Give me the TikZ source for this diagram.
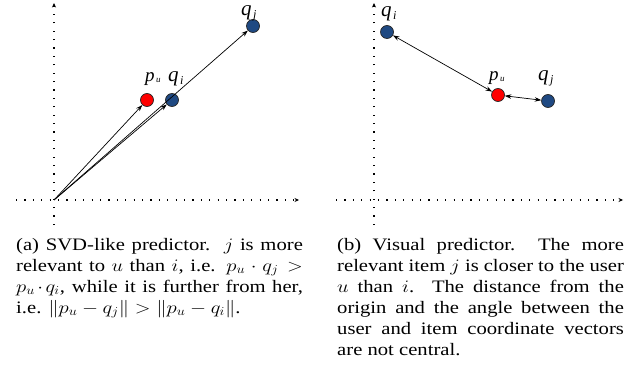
\documentclass[tikz,border=0pt]{standalone}
\usepackage{fix-cm}
\usepackage{graphicx}
\usepackage{fontspec}
\setmainfont{Liberation Serif}
\usetikzlibrary{arrows.meta}
\definecolor{itemblue}{RGB}{31,73,130}
\definecolor{userred}{RGB}{255,0,0}
\begin{document}
\begin{tikzpicture}[x=1pt,y=-1pt,
  pt/.style={circle,draw=black!85,line width=0.7pt,minimum size=13pt,inner sep=0pt},
  user/.style={pt,fill=userred},
  item/.style={pt,fill=itemblue},
  axis/.style={line width=1.2pt,dash pattern=on 1.2pt off 7.2pt,-{Stealth[length=4.5pt,width=4pt]}},
  vec/.style={line width=0.7pt,-{Stealth[length=6.5pt,width=4.5pt]}},
  dvec/.style={line width=0.7pt,{Stealth[length=6.5pt,width=4.5pt]}-{Stealth[length=6.5pt,width=4.5pt]}},
  lab/.style={anchor=base west,inner sep=0pt,font=\itshape},
  captext/.style={anchor=base west,inner sep=0pt,font=\fontsize{17.5}{21}\selectfont}
]
\useasboundingbox (0,0) rectangle (636,390);
\newcommand{\qlbl}[1]{{\fontsize{21}{21}\selectfont q}\kern1.5pt\raisebox{-3pt}{\fontsize{12}{12}\selectfont #1}}
\newcommand{\plbl}[1]{{\fontsize{19}{19}\selectfont p}\kern1.5pt\raisebox{-1pt}{\fontsize{9}{9}\selectfont #1}}
\newcommand{\capline}[1]{\scalebox{1.18}[1]{\makebox[243pt][s]{#1}}}
\newcommand{\capend}[1]{\scalebox{1.18}[1]{#1}}
% ---------- left panel ----------
\coordinate (o1) at (54,200);
\coordinate (ya1) at (54,225);
\coordinate (yb1) at (54,3);
\coordinate (xa1) at (16,200);
\coordinate (xb1) at (299,200);
\draw[axis] (ya1) -- (yb1);
\draw[axis] (xa1) -- (xb1);
\node[user] (pu1) at (147,100) {};
\node[item] (qi1) at (172,100) {};
\node[item] (qj1) at (253,26) {};
\draw[vec] (o1) -- (pu1);
\draw[vec] (o1) -- (qi1);
\draw[vec] (o1) -- (qj1);
\node[lab] (lpu1) at (145,82) {\plbl{u}};
\node[lab] (lqi1) at (168,82) {\qlbl{i}};
\node[lab] (lqj1) at (241,15.5) {\qlbl{j}};
% ---------- right panel ----------
\coordinate (ya2) at (374,225);
\coordinate (yb2) at (374,3);
\coordinate (xa2) at (336,200);
\coordinate (xb2) at (623,200);
\draw[axis] (ya2) -- (yb2);
\draw[axis] (xa2) -- (xb2);
\node[item] (qi2) at (387,32) {};
\node[user] (pu2) at (498,95) {};
\node[item] (qj2) at (548,101) {};
\draw[dvec] (qi2) -- (pu2);
\draw[dvec] (pu2) -- (qj2);
\node[lab] (lqi2) at (381,16.5) {\qlbl{i}};
\node[lab] (lpu2) at (489,81) {\plbl{u}};
\node[lab] (lqj2) at (538,81) {\qlbl{j}};
% ---------- captions ----------
\node[captext] (ca1) at (16,250) {\capline{(a) SVD-like predictor.\ \ $j$ is more}};
\node[captext] (ca2) at (16,271) {\capline{relevant to $u$ than $i$, i.e. $p_u\cdot q_j >$}};
\node[captext] (ca3) at (16,292) {\capline{$p_u\!\cdot\! q_i$, while it is further from her,}};
\node[captext] (ca4) at (16,313) {\capend{i.e. $\|p_u - q_j\| > \|p_u - q_i\|$.}};
\node[captext] (cb1) at (337,250) {\capline{(b) Visual predictor.\ \ The more}};
\node[captext] (cb2) at (337,271) {\capline{relevant item $j$ is closer to the user}};
\node[captext] (cb3) at (337,292) {\capline{$u$ than $i$.\ \ The distance from the}};
\node[captext] (cb4) at (337,313) {\capline{origin and the angle between the}};
\node[captext] (cb5) at (337,334) {\capline{user and item coordinate vectors}};
\node[captext] (cb6) at (337,355) {\capend{are not central.}};
\end{tikzpicture}
\end{document}
